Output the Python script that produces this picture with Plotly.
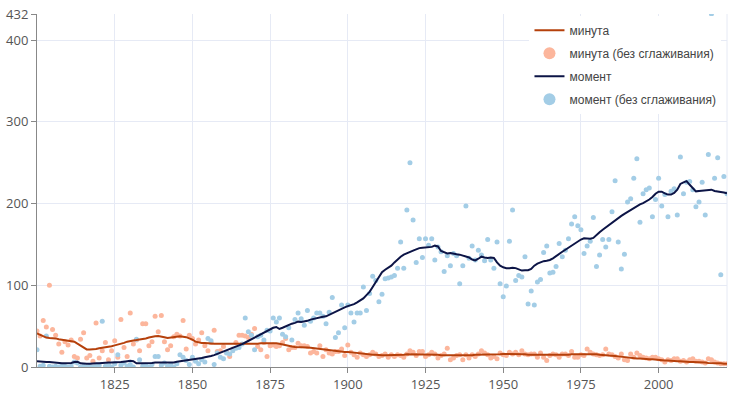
import plotly.graph_objects as go

years = list(range(1800, 2023))

# "момент" raw counts (без сглаживания), 1800..2022
moment_raw = [
    21, 1, 2, 38, 1, 0, 1, 0, 2, 1,            # 1800
    0, 1, 6, 5, 0, 1, 0, 1, 0, 1,              # 1810
    2, 56, 1, 3, 0, 4, 15, 2, 5, 1,            # 1820
    3, 0, 34, 9, 1, 2, 0, 3, 13, 13,           # 1830
    2, 5, 1, 3, 0, 4, 15, 12, 8, 3,            # 1840
    12, 7, 4, 9, 6, 35, 32, 3, 17, 12,         # 1850
    10, 17, 16, 20, 23, 24, 28, 60, 43, 39,    # 1860
    21, 37, 39, 33, 45, 44, 60, 55, 60, 40,    # 1870
    37, 48, 33, 58, 66, 59, 51, 69, 56, 60,    # 1880
    66, 66, 62, 53, 67, 85, 36, 42, 76, 48,    # 1890
    76, 66, 55, 66, 66, 98, 69, 90, 111, 106,  # 1900
    80, 89, 108, 109, 110, 112, 121, 153, 121, 192,  # 1910
    250, 180, 128, 157, 134, 157, 149, 157, 131, 147,  # 1920
    141, 117, 136, 124, 139, 136, 102, 124, 197, 133,  # 1930
    148, 131, 143, 137, 130, 156, 131, 121, 153, 102,  # 1940
    86, 99, 154, 192, 106, 112, 110, 135, 77, 93,      # 1950
    76, 104, 107, 140, 148, 115, 116, 123, 151, 135,   # 1960
    143, 157, 175, 184, 173, 168, 139, 148, 154, 183,  # 1970
    123, 137, 156, 147, 156, 190, 228, 153, 120, 138,  # 1980
    202, 206, 231, 255, 177, 212, 217, 219, 184, 205,  # 1990
    231, 197, 211, 184, 215, 218, 186, 257, 212, 226,  # 2000
    227, 217, 196, 202, 226, 186, 260, 432, 231, 256,  # 2010
    113, 233, 212,                                     # 2020
]

# "момент" smoothed
moment_smooth = [
    7, 6.5, 6.5, 6, 6, 5.5, 5, 5, 4.5, 4.5,
    4.5, 5, 6, 6.5, 4.5, 4, 4, 4, 4.5, 4.5,
    4.5, 5, 5.5, 5.5, 5.5, 5.5, 6, 6, 6.5, 7,
    7.5, 7, 4.5, 4.5, 4.5, 5, 5, 5, 5.5, 5.5,
    5.5, 5.5, 5.5, 5, 5.5, 6.5, 7, 7.5, 8, 8.5,
    9, 9.5, 10, 11, 12, 12.5, 13.5, 14.5, 16, 17.5,
    19, 20, 21.5, 23, 24.5, 26, 28, 30, 32, 34,
    36, 37.5, 39.5, 41.5, 43.5, 45.5, 48, 49, 46.5, 48,
    50, 51.5, 53, 54, 55.5, 55, 55.5, 56.5, 58, 59,
    60, 61, 61.5, 62, 64, 66, 67.5, 69, 71.5, 73,
    74.5, 75.5, 77, 79, 81, 84, 88, 92, 98, 104,
    110, 116, 119, 121, 124, 128, 132, 135, 137.5, 139.5,
    141, 142.5, 144, 145.5, 146, 146.5, 146.5, 147, 148.5, 147.5,
    142, 140, 139, 139.5, 138.5, 138, 137.5, 136.5, 135, 134,
    131.5, 130.5, 132.5, 135, 134, 133.5, 134, 133.5, 128, 124,
    122, 121, 121, 121.5, 121, 119.5, 118, 118.5, 118.5, 120,
    124, 126.5, 128.5, 129.5, 130, 131, 133, 136, 138.5, 141,
    143.5, 146, 148.5, 151, 154, 156, 157.5, 157.5, 157, 158,
    162, 165, 168, 171, 174, 177, 179.5, 182, 185, 187.5,
    190, 192.5, 195, 197, 199, 200.5, 202.5, 205, 208, 212,
    214.5, 214.5, 212.5, 211, 211, 213, 217, 224, 226, 227.5,
    223, 219, 215, 215.5, 216, 216, 216.5, 217, 215.5, 215,
    214.5, 213.5, 212.5,
]

# "минута" raw counts (без сглаживания)
minuta_raw = [
    44, 38, 57, 49, 100, 46, 39, 28, 18, 31,
    27, 33, 13, 11, 34, 42, 11, 14, 7, 54,
    11, 20, 30, 9, 20, 32, 12, 58, 24, 13,
    66, 28, 33, 20, 53, 53, 26, 31, 62, 43,
    63, 31, 21, 26, 37, 40, 38, 57, 22, 39,
    35, 28, 33, 42, 26, 20, 30, 45, 19, 20,
    25, 18, 13, 22, 30, 39, 39, 38, 36, 40,
    47, 25, 21, 30, 13, 26, 27, 25, 26, 30,
    35, 21, 24, 24, 29, 26, 26, 25, 17, 19,
    17, 26, 13, 21, 17, 16, 19, 19, 22, 14,
    27, 18, 15, 12, 17, 15, 13, 15, 18, 16,
    13, 14, 16, 12, 15, 13, 15, 14, 12, 16,
    20, 18, 14, 19, 19, 13, 15, 18, 16, 11,
    14, 16, 23, 9, 11, 14, 15, 9, 15, 11,
    15, 13, 16, 20, 17, 15, 11, 13, 10, 17,
    15, 14, 18, 16, 18, 15, 20, 16, 15, 16,
    16, 12, 17, 12, 8, 14, 16, 15, 12, 16,
    16, 14, 19, 12, 12, 15, 14, 22, 18, 16,
    15, 14, 15, 22, 16, 15, 13, 11, 16, 9,
    8, 16, 12, 17, 14, 12, 11, 10, 12, 12,
    10, 9, 6, 9, 8, 10, 10, 7, 8, 6,
    9, 10, 7, 7, 6, 5, 10, 9, 6, 5,
    4, 4, 4,
]

# "минута" smoothed
minuta_smooth = [
    41, 39, 37.5, 36, 35.5, 35.5, 35, 34, 33.5, 33,
    32.5, 32, 31, 28.5, 26, 23, 21.5, 21.5, 21.5, 22,
    23, 23.5, 24.5, 25, 25.5, 26.5, 27.5, 28, 29.5, 31,
    32, 32.5, 33, 33.5, 34, 35, 36, 37, 37.5, 38,
    37.5, 36.5, 35.5, 36, 37, 37.5, 37.5, 37, 36.5, 35,
    33.5, 31, 30, 29.5, 29.5, 29, 29, 28.5, 28.5, 28.5,
    28.5, 28.5, 28.5, 28, 28, 28, 28, 28.5, 28.5, 28,
    28, 28.5, 29, 29, 29, 29.5, 29.5, 29, 28.5, 27.5,
    26.5, 25.5, 25, 24.5, 24.5, 24.5, 24.5, 24, 23.5, 23,
    22.5, 22, 21.5, 21, 20.5, 20, 20, 19.5, 19, 18.5,
    18.5, 18, 17.5, 17, 16.5, 16, 15.5, 15.5, 15, 15,
    14.5, 14.5, 14.5, 14.5, 14.5, 14.5, 15, 15, 15, 15.5,
    15.5, 15.5, 15.5, 15.5, 15.5, 15.5, 15, 15, 15, 15,
    14.5, 14.5, 14.5, 14.5, 14.5, 14, 14, 14, 14, 14.5,
    14.5, 15, 15, 15, 15.5, 15, 15, 15, 15, 15.5,
    16, 16, 16, 15.5, 15.5, 15.5, 15.5, 15.5, 15, 15,
    15, 15, 14.5, 14.5, 14.5, 14.5, 15, 15, 15, 15,
    15, 15, 15.5, 15.5, 15.5, 15.5, 16, 16, 16, 15.5,
    15.5, 15, 15, 14.5, 14, 14, 13.5, 13, 12.5, 12,
    11.5, 11, 11, 10.5, 10.5, 10, 10, 9.5, 9.5, 9,
    9, 8.5, 8, 8, 7.5, 7.5, 7, 7, 6.5, 6.5,
    6, 6, 6, 5.5, 5.5, 5.5, 5, 5, 5, 4.5,
    4.5, 4, 4,
]

x_ticks = [1825, 1850, 1875, 1900, 1925, 1950, 1975, 2000]
y_ticks = [0, 100, 200, 300, 400, 432]

C_MIN_LINE = "#b5400b"
C_MIN_PT = "#fcb69c"
C_MOM_LINE = "#0c1446"
C_MOM_PT = "#a3cde6"

fig = go.Figure()

# data traces (no legend)
fig.add_trace(go.Scatter(x=years, y=minuta_raw, mode="markers",
                         marker=dict(color=C_MIN_PT, size=5),
                         showlegend=False, hoverinfo="skip"))
fig.add_trace(go.Scatter(x=years, y=moment_raw, mode="markers",
                         marker=dict(color=C_MOM_PT, size=5),
                         showlegend=False, hoverinfo="skip"))
fig.add_trace(go.Scatter(x=years, y=minuta_smooth, mode="lines",
                         line=dict(color=C_MIN_LINE, width=2),
                         showlegend=False))
fig.add_trace(go.Scatter(x=years, y=moment_smooth, mode="lines",
                         line=dict(color=C_MOM_LINE, width=2),
                         showlegend=False))

# legend entries
fig.add_trace(go.Scatter(x=[None], y=[None], mode="lines", name="минута",
                         legendgroup="a", line=dict(color=C_MIN_LINE, width=2)))
fig.add_trace(go.Scatter(x=[None], y=[None], mode="markers",
                         name="минута (без сглаживания)", legendgroup="b",
                         marker=dict(color=C_MIN_PT, size=12)))
fig.add_trace(go.Scatter(x=[None], y=[None], mode="lines", name="момент",
                         legendgroup="c", line=dict(color=C_MOM_LINE, width=2)))
fig.add_trace(go.Scatter(x=[None], y=[None], mode="markers",
                         name="момент (без сглаживания)", legendgroup="d",
                         marker=dict(color=C_MOM_PT, size=12)))

grid = "#e6eaf5"
fig.update_layout(
    width=739, height=397,
    margin=dict(l=37, r=12, t=14, b=30, autoexpand=False),
    paper_bgcolor="white", plot_bgcolor="white",
    font=dict(family="Open Sans, sans-serif", color="#555", size=13),
    legend=dict(x=0.992, xanchor="right", y=0.995, yanchor="top",
                bgcolor="white",
                font=dict(family="Liberation Sans, Arial, sans-serif", size=12, color="#444"),
                traceorder="grouped", tracegroupgap=4),
    shapes=[dict(type="line", xref="paper", yref="paper", x0=1, x1=1, y0=0, y1=1,
                 line=dict(color=grid, width=1), layer="below")],
)
fig.update_xaxes(range=[1800, 2022], tickvals=x_ticks, showgrid=True, gridcolor=grid,
                 showline=True, linecolor="#888", linewidth=1, ticks="outside",
                 ticklen=5, tickcolor="#888", zeroline=False, automargin=False)
fig.update_yaxes(range=[0, 432], tickvals=y_ticks, showgrid=True, gridcolor=grid,
                 showline=True, linecolor="#888", linewidth=1, ticks="outside",
                 ticklen=5, tickcolor="#888", zeroline=False, automargin=False)

fig.write_html("out.html", config={"displayModeBar": False},
               post_script="document.body.style.margin='0';document.body.style.overflow='hidden';")
